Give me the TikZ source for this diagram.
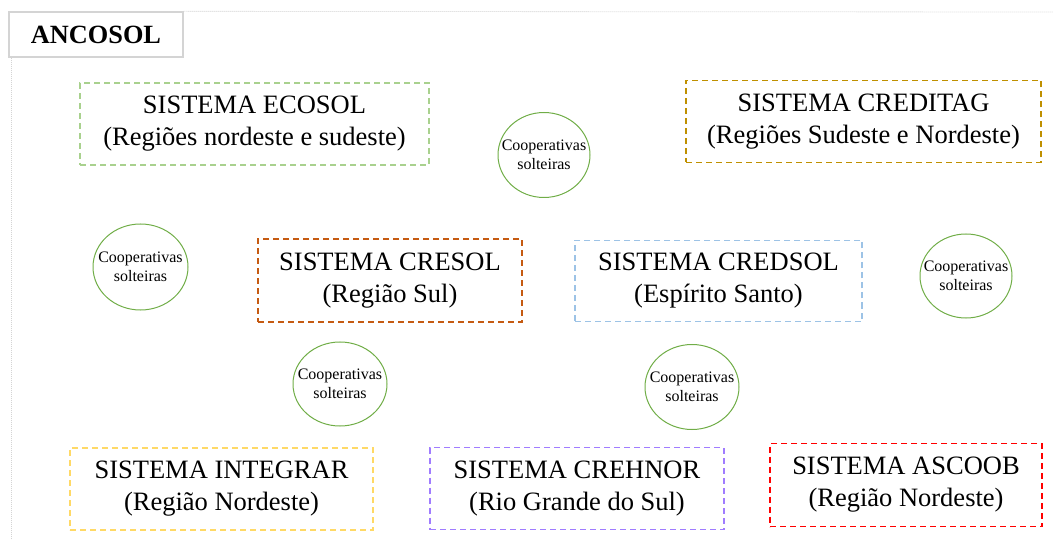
\documentclass[tikz,border=0pt]{standalone}
\usepackage{fontspec}
\setmainfont{Liberation Serif}
\usetikzlibrary{shapes.geometric}
\definecolor{cEcosol}{HTML}{A9D18E}
\definecolor{cCreditag}{HTML}{BF9000}
\definecolor{cCresol}{HTML}{C55A11}
\definecolor{cCredsol}{HTML}{9DC3E6}
\definecolor{cIntegrar}{HTML}{FFD966}
\definecolor{cCrehnor}{HTML}{A07CFF}
\definecolor{cAscoob}{HTML}{FF0000}
\definecolor{cCoop}{HTML}{70AD47}
\definecolor{cFrame}{HTML}{D4D4D4}
\begin{document}
\begin{tikzpicture}[x=1pt,y=-1pt,
  sysbox/.style={rectangle, dash pattern=on 6pt off 4pt, line width=1.5pt,
    minimum height=82pt, inner sep=0pt, align=center,
    font=\fontsize{26.5}{32}\selectfont},
  coop/.style={ellipse, draw=cCoop, line width=1pt, inner xsep=-14pt, inner ysep=-2pt,
    align=center, font=\fontsize{16}{19}\selectfont},
  framebox/.style={rectangle, draw=cFrame, line width=1.3pt, inner sep=0pt,
    font=\fontsize{26.3}{32}\selectfont\bfseries},
  frameline/.style={draw=cFrame, line width=0.8pt, dash pattern=on 1pt off 1pt}]
\useasboundingbox (0,0) rectangle (1053,540);
% frame
\coordinate (fTop) at (1053,12);
\coordinate (fBot) at (11,540);
\node[framebox, minimum width=174pt, minimum height=45pt] (anc) at (96,34.5) {ANCOSOL};
\draw[frameline] (anc.north east) -- (fTop);
\draw[frameline] (anc.south west -| fBot) -- (fBot);
% systems
\node[sysbox, draw=cEcosol, minimum width=349pt] (ecosol) at (254.5,124)
  {SISTEMA ECOSOL\\(Regiões nordeste e sudeste)};
\node[sysbox, draw=cCreditag, minimum width=355pt] (creditag) at (863.5,121.5)
  {SISTEMA CREDITAG\\(Regiões Sudeste e Nordeste)};
\node[sysbox, draw=cCresol, minimum width=264pt, minimum height=83pt] (cresol) at (390,280.5)
  {SISTEMA CRESOL\\(Região Sul)};
\node[sysbox, draw=cCredsol, minimum width=287pt, minimum height=81pt] (credsol) at (718.5,281)
  {SISTEMA CREDSOL\\(Espírito Santo)};
\node[sysbox, draw=cIntegrar, minimum width=303pt] (integrar) at (221.5,489)
  {SISTEMA INTEGRAR\\(Região Nordeste)};
\node[sysbox, draw=cCrehnor, minimum width=294pt] (crehnor) at (577,488.5)
  {SISTEMA CREHNOR\\(Rio Grande do Sul)};
\node[sysbox, draw=cAscoob, minimum width=272pt, minimum height=83pt] (ascoob) at (906,485)
  {SISTEMA ASCOOB\\(Região Nordeste)};
% cooperativas solteiras
\node[coop, minimum width=92pt, minimum height=85pt] (c1) at (544,155) {Cooperativas\\solteiras};
\node[coop, minimum width=95pt, minimum height=86pt] (c2) at (140.5,267) {Cooperativas\\solteiras};
\node[coop, minimum width=92pt, minimum height=84pt] (c3) at (966,276) {Cooperativas\\solteiras};
\node[coop, minimum width=94pt, minimum height=84pt] (c4) at (340,384) {Cooperativas\\solteiras};
\node[coop, minimum width=94pt, minimum height=85pt] (c5) at (692,387) {Cooperativas\\solteiras};
\end{tikzpicture}
\end{document}
